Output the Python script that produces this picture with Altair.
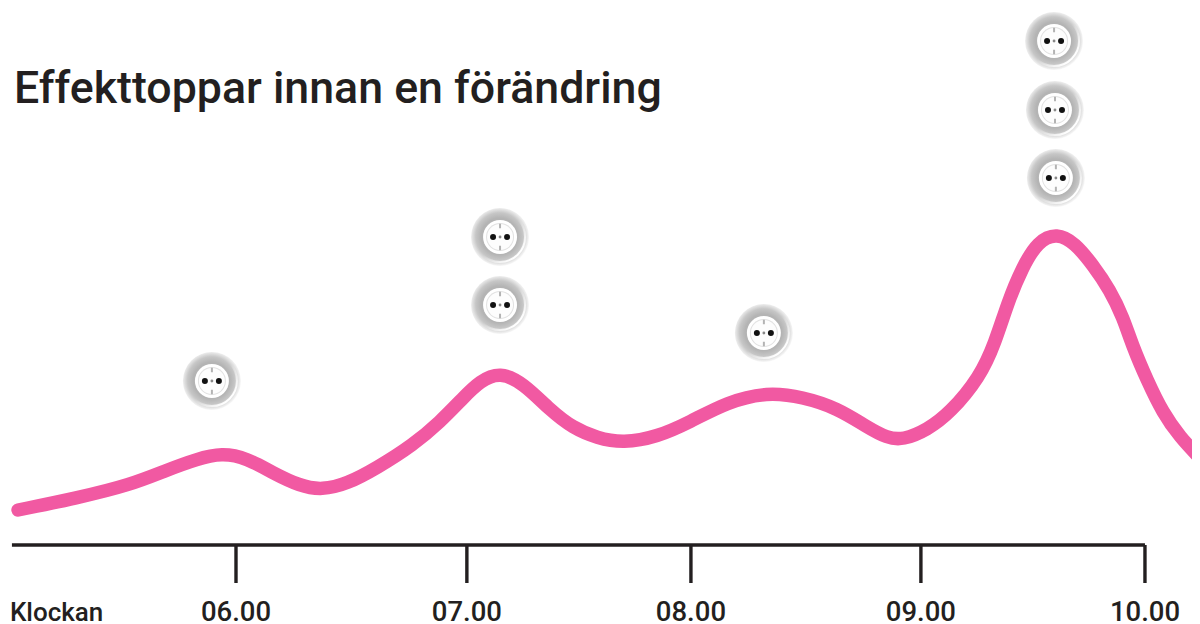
import altair as alt
import pandas as pd

title_text = "Effekttoppar innan en förändring"
axis_name = "Klockan"
ink = "#231f20"
pink = "#f159a2"

hours = [5.041, 5.300, 5.534, 5.696, 5.828, 5.938, 6.048, 6.163, 6.282, 6.378, 6.488, 6.620,
         6.779, 6.898, 6.999, 7.074, 7.162, 7.263, 7.382, 7.483, 7.589, 7.703, 7.853, 7.998,
         8.161, 8.337, 8.495, 8.645, 8.777, 8.865, 8.935, 9.041, 9.142, 9.274, 9.340, 9.397,
         9.459, 9.529, 9.613, 9.692, 9.771, 9.846, 9.903, 9.947, 10.009, 10.079, 10.154, 10.242]
power = [35, 47, 60, 75, 86, 92, 87, 72, 59, 55, 61, 77,
         100, 123, 147, 164, 173, 162, 135, 117, 107, 102, 108, 123,
         143, 153, 148, 137, 118, 107, 105, 115, 132, 168, 202, 243,
         277, 304, 312, 302, 280, 255, 228, 198, 165, 132, 108, 87]

tick_hours = [6.0, 7.016, 8.002, 9.014, 10.0]
tick_labels = ["06.00", "07.00", "08.00", "09.00", "10.00"]
axis_start = 5.014
tick_drop = -38
label_level = -76

icon_hours = [5.894, 7.162, 7.162, 8.323, 9.600, 9.604, 9.608]
icon_levels = [164, 308, 240, 212, 504, 435, 367]

x_scale = alt.Scale(domain=[4.9967, 10.207], nice=False, zero=False)
y_scale = alt.Scale(domain=[-79, 537], nice=False, zero=False)
X = alt.X("h:Q", scale=x_scale, axis=None)
Y = alt.Y("v:Q", scale=y_scale, axis=None)
LY = alt.Y("ly:Q", scale=y_scale, axis=None)

curve = pd.DataFrame({"h": hours, "v": power})
ticks = pd.DataFrame({"h": tick_hours, "v": [0] * 5, "v2": [tick_drop] * 5,
                      "lab": tick_labels, "ly": [label_level] * 5})
base_df = pd.DataFrame({"h": [axis_start], "h2": [tick_hours[-1]], "v": [0]})
icons = pd.DataFrame({"h": icon_hours, "v": icon_levels})

line = alt.Chart(curve).mark_line(color=pink, strokeWidth=13.5, strokeCap="round",
                                  interpolate="basis", clip=True).encode(x=X, y=Y)
baseline = alt.Chart(base_df).mark_rule(color=ink, strokeWidth=3.4).encode(x=X, x2="h2:Q", y=Y)
tick_marks = alt.Chart(ticks).mark_rule(color=ink, strokeWidth=3.4).encode(x=X, y=Y, y2="v2:Q")
tick_text = alt.Chart(ticks).mark_text(font="Roboto", fontSize=27.5, fontWeight=500, color=ink, align="center",
                                       baseline="alphabetic").encode(x=X, y=LY, text="lab:N")
name_text = alt.Chart(pd.DataFrame({"h": [axis_start - 0.009], "ly": [label_level], "t": [axis_name]})).mark_text(
    font="Roboto", fontSize=26, fontWeight=500, color=ink, align="left", baseline="alphabetic"
).encode(x=X, y=LY, text="t:N")
title = alt.Chart(pd.DataFrame({"h": [5.023], "ly": [442], "t": [title_text]})).mark_text(
    font="Roboto", fontSize=44.7, fontWeight=500, color=ink, align="left", baseline="alphabetic"
).encode(x=X, y=LY, text="t:N")

grad = alt.RadialGradient(
    gradient="radial", x1=0.49, y1=0.49, r1=0, x2=0.49, y2=0.49, r2=0.51,
    stops=[alt.GradientStop(offset=0, color="#b0b0b0"),
           alt.GradientStop(offset=0.62, color="#b4b4b4"),
           alt.GradientStop(offset=0.8, color="#c6c6c6"),
           alt.GradientStop(offset=0.93, color="#e6e6e6"),
           alt.GradientStop(offset=1, color="#f8f8f8")])
crescent = alt.LinearGradient(
    gradient="linear", x1=0.2, y1=0.2, x2=0.85, y2=0.85,
    stops=[alt.GradientStop(offset=0.5, color="rgba(255,255,255,0)"),
           alt.GradientStop(offset=1, color="#ffffff")])

def disc(size, color, dx=0):
    return alt.Chart(icons).mark_point(filled=True, shape="circle", size=size, fill=color, opacity=1,
                                       strokeOpacity=0, xOffset=dx).encode(x=X, y=Y)

def bar(w, h, dy):
    return alt.Chart(icons).mark_point(filled=True, shape=f"M{-w},{-h}L{w},{-h}L{w},{h}L{-w},{h}Z", size=100,
                                       fill="#b3b3b3", opacity=1, strokeOpacity=0, yOffset=dy).encode(x=X, y=Y)

rim = alt.Chart(icons).mark_point(filled=False, shape="circle", size=2500, stroke=crescent,
                                  strokeWidth=2, opacity=1).encode(x=X, y=Y)

icon_layers = [
    disc(3364, grad),
    rim,
    disc(1156, "#ffffff"),
    disc(784, "#e2e2e2"),
    disc(676, "#fdfdfd"),
    bar(0.2, 0.45, -11),
    bar(0.2, 0.45, 11),
    disc(36, "#111111", -7),
    disc(36, "#111111", 7),
    disc(8, "#888888"),
]

chart = alt.layer(line, baseline, tick_marks, tick_text, name_text, title, *icon_layers).properties(
    width=1184, height=616, padding=0, autosize=alt.AutoSizeParams(type="none")
).configure_view(stroke=None)

chart.save("out.html", embed_options={"renderer": "svg", "actions": False})
